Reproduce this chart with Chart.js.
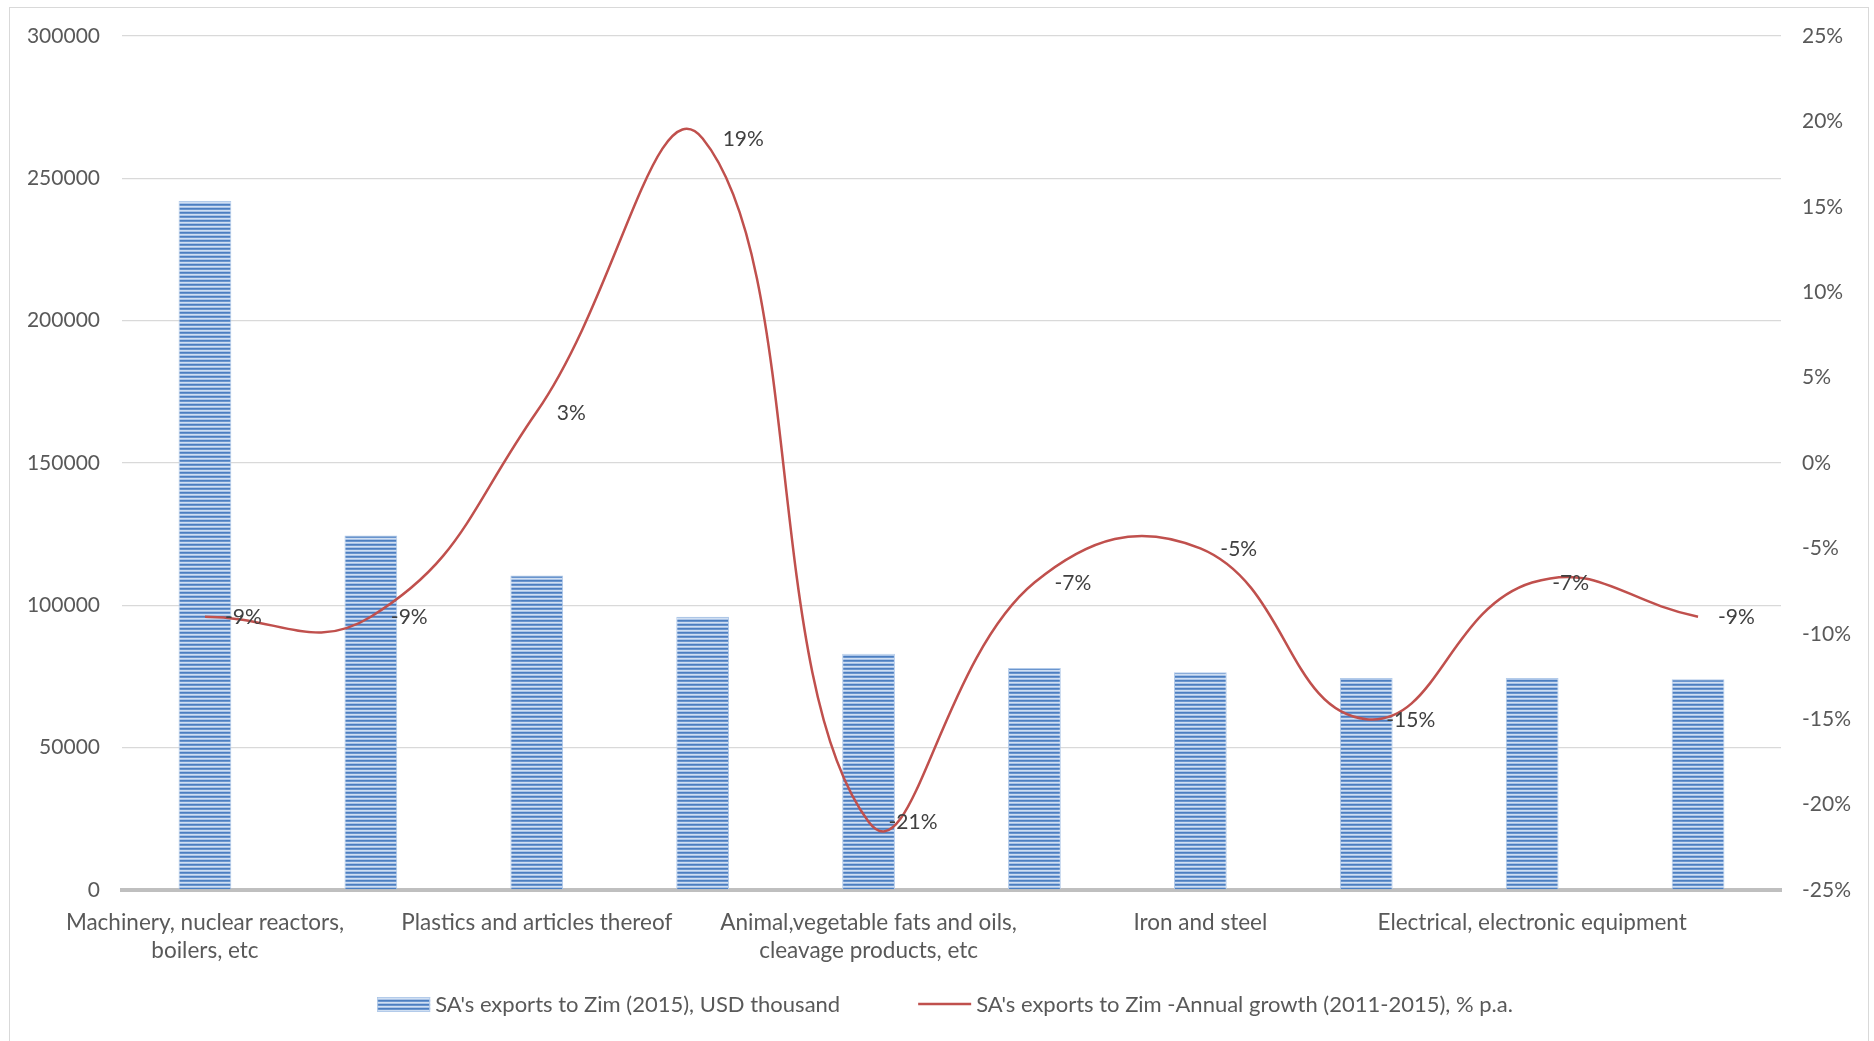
<!DOCTYPE html>
<html>
<head>
<meta charset="utf-8">
<script src="https://cdn.jsdelivr.net/npm/chart.js@4.4.1/dist/chart.umd.min.js"></script>
<style>
  html, body { margin: 0; padding: 0; background: #ffffff; }
  #wrap { position: relative; width: 1874px; height: 1041px; }
  canvas { display: block; }
</style>
</head>
<body>
<div id="wrap"><canvas id="c" width="1874" height="1041"></canvas></div>
<script>
// ---- data ----
const categories = [
  ["Machinery, nuclear reactors,", "boilers, etc"],
  "",
  "Plastics and articles thereof",
  "",
  ["Animal,vegetable fats and oils,", "cleavage products, etc"],
  "",
  "Iron and steel",
  "",
  "Electrical, electronic equipment",
  ""
];
const exportsUSD = [242000, 124500, 110500, 96000, 83000, 78000, 76500, 74500, 74500, 74000];
const growthPct = [-9, -9, 3, 19, -21, -7, -5, -15, -7, -9];
const leftTicks = [0, 50000, 100000, 150000, 200000, 250000, 300000];
const rightTicks = [-25, -20, -15, -10, -5, 0, 5, 10, 15, 20, 25];
const seriesNames = [
  "SA's exports to Zim (2015), USD thousand",
  "SA's exports to Zim -Annual growth (2011-2015), % p.a."
];

// ---- styles ----
const FONT = 'Lato, "Open Sans", sans-serif';
const FS_CAT = 22.5;
const FS_TICK = 21;
const FS_LBL = 21;
const FS_LEG = 22;
const LINE_RED = '#c0504d';

function makeStripePattern() {
  const p = document.createElement('canvas');
  p.width = 4; p.height = 4;
  const g = p.getContext('2d');
  const rows = ['#4c7ec0', '#6a95ce', '#d0dff2', '#a9c3e7'];
  rows.forEach((c, i) => { g.fillStyle = c; g.fillRect(0, i, 4, 1); });
  return document.getElementById('c').getContext('2d').createPattern(p, 'repeat');
}
const stripes = makeStripePattern();

const framePlugin = {
  id: 'frame',
  beforeDraw(chart) {
    const ctx = chart.ctx;
    ctx.save();
    ctx.fillStyle = '#ffffff';
    ctx.fillRect(0, 0, chart.width, chart.height);
    ctx.strokeStyle = '#d9d9d9';
    ctx.lineWidth = 1;
    ctx.strokeRect(9.5, 7.5, chart.width - 15, chart.height);
    ctx.restore();
  }
};

const dataLabelPlugin = {
  id: 'lineLabels',
  afterDatasetsDraw(chart) {
    const ctx = chart.ctx;
    const meta = chart.getDatasetMeta(1);
    ctx.save();
    ctx.font = FS_LBL + 'px ' + FONT;
    ctx.fillStyle = '#404040';
    ctx.textAlign = 'left';
    ctx.textBaseline = 'middle';
    meta.data.forEach((pt, i) => {
      ctx.fillText(growthPct[i] + '%', pt.x + 20, pt.y + 1);
    });
    ctx.restore();
  }
};

const legendPlugin = {
  id: 'customLegend',
  afterDraw(chart) {
    const ctx = chart.ctx;
    ctx.save();
    ctx.font = FS_LEG + 'px ' + FONT;
    const sw = 53, gapText = 5, gapItems = 78;
    const w1 = ctx.measureText(seriesNames[0]).width;
    const w2 = ctx.measureText(seriesNames[1]).width;
    const total = sw + gapText + w1 + gapItems + sw + gapText + w2;
    const cx = 945, y = 1004;
    let x = cx - total / 2;
    ctx.fillStyle = stripes;
    ctx.fillRect(x, y - 7, sw, 15);
    ctx.strokeStyle = '#b3cbea';
    ctx.lineWidth = 1;
    ctx.strokeRect(x + 0.5, y - 6.5, sw - 1, 14);
    x += sw + gapText;
    ctx.fillStyle = '#595959';
    ctx.textBaseline = 'middle';
    ctx.textAlign = 'left';
    ctx.fillText(seriesNames[0], x, y + 1);
    x += w1 + gapItems;
    ctx.strokeStyle = LINE_RED;
    ctx.lineWidth = 2.5;
    ctx.beginPath();
    ctx.moveTo(x, y); ctx.lineTo(x + sw, y);
    ctx.stroke();
    x += sw + gapText;
    ctx.fillText(seriesNames[1], x, y + 1);
    ctx.restore();
  }
};

new Chart(document.getElementById('c'), {
  data: {
    labels: categories,
    datasets: [
      {
        type: 'bar',
        label: seriesNames[0],
        data: exportsUSD,
        yAxisID: 'y',
        backgroundColor: stripes,
        borderColor: '#b3cbea',
        borderWidth: 1,
        barPercentage: 0.318,
        categoryPercentage: 1.0,
        order: 2
      },
      {
        type: 'line',
        label: seriesNames[1],
        data: growthPct,
        yAxisID: 'y1',
        borderColor: LINE_RED,
        borderWidth: 2.5,
        pointRadius: 0,
        tension: 0.45,
        fill: false,
        order: 1
      }
    ]
  },
  options: {
    responsive: false,
    animation: false,
    events: [],
    layout: { padding: { top: 36, left: 0, right: 0, bottom: 0 } },
    plugins: {
      legend: { display: false },
      tooltip: { enabled: false },
      title: { display: false }
    },
    scales: {
      x: {
        grid: { display: false, drawTicks: false },
        border: { display: true, color: '#bfbfbf', width: 4 },
        ticks: {
          autoSkip: false, maxRotation: 0, minRotation: 0,
          padding: 18,
          color: '#595959',
          font: { family: FONT, size: FS_CAT, lineHeight: 1.28 }
        },
        afterFit(s) { s.height = 151; }
      },
      y: {
        position: 'left',
        min: 0, max: 300000,
        afterBuildTicks(s) { s.ticks = leftTicks.map(v => ({ value: v })); },
        grid: { color: '#d9d9d9', lineWidth: 1.3, drawTicks: false },
        border: { display: false },
        ticks: {
          padding: 22,
          color: '#595959',
          font: { family: FONT, size: FS_TICK },
          callback: v => String(v)
        },
        afterFit(s) { s.width = 122; }
      },
      y1: {
        position: 'right',
        min: -25, max: 25,
        afterBuildTicks(s) { s.ticks = rightTicks.map(v => ({ value: v })); },
        grid: { display: false, drawTicks: false },
        border: { display: false },
        ticks: {
          padding: 21,
          color: '#595959',
          font: { family: FONT, size: FS_TICK },
          callback: v => v + '%'
        },
        afterFit(s) { s.width = 93; }
      }
    }
  },
  plugins: [framePlugin, dataLabelPlugin, legendPlugin]
});
</script>
</body>
</html>
